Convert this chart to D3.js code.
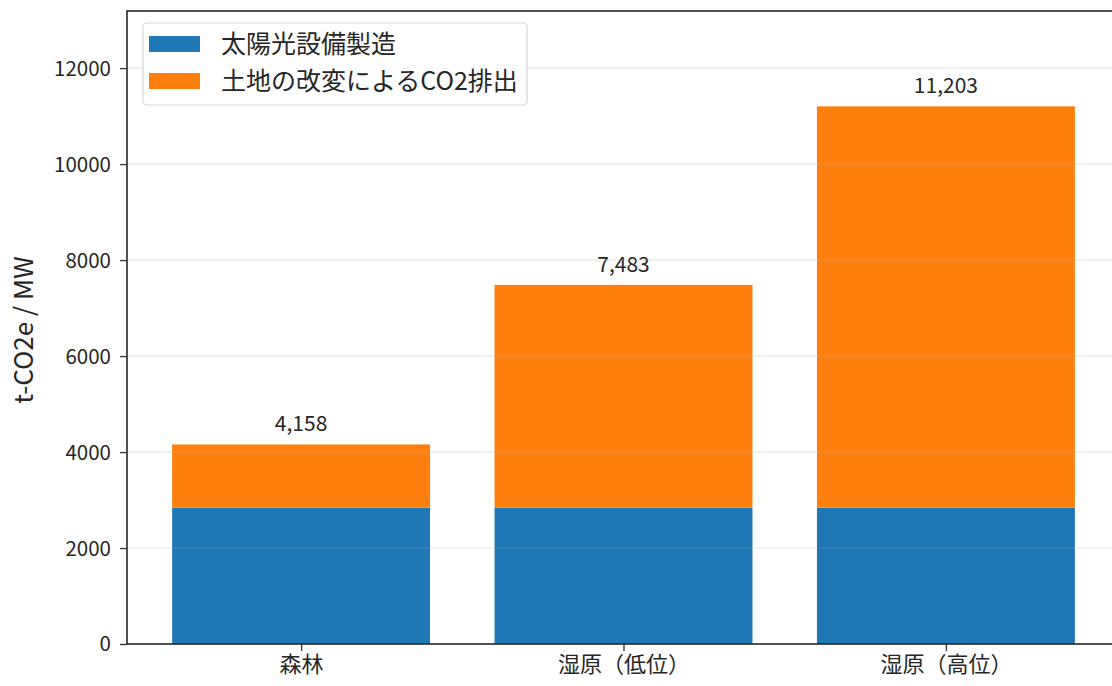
<!DOCTYPE html>
<html><head><meta charset="utf-8">
<script src="https://cdn.jsdelivr.net/npm/d3@7"></script>
<style>body{margin:0;background:#fff;} svg{display:block;font-family:"Noto Sans CJK JP","Noto Sans",sans-serif;}</style>
</head><body>
<svg id="c" width="1112" height="686"></svg>
<script>
const categories = ["森林", "湿原（低位）", "湿原（高位）"];
const solarManufacturing = [2840, 2840, 2840];
const landUseChange = [1318, 4643, 8363];
const totalLabels = ["4,158", "7,483", "11,203"];
const seriesNames = ["太陽光設備製造", "土地の改変によるCO2排出"];
const yTicks = [0, 2000, 4000, 6000, 8000, 10000, 12000];

const colors = ["#1f77b4", "#ff7f0e"];
const svg = d3.select("#c");
const m = {left: 127, top: 11, right: 1120, bottom: 644};

const x = d3.scaleLinear().domain([-0.54, 2.54]).range([m.left, m.right]);
const y = d3.scaleLinear().domain([0, 13190]).range([m.bottom, m.top]);
const bw = x(0.8) - x(0);

// bars
categories.forEach((c, i) => {
  const s = solarManufacturing[i], l = landUseChange[i];
  svg.append("rect").attr("x", x(i) - bw/2).attr("width", bw)
    .attr("y", y(s)).attr("height", y(0) - y(s)).attr("fill", colors[0]);
  svg.append("rect").attr("x", x(i) - bw/2).attr("width", bw)
    .attr("y", y(s + l)).attr("height", y(s) - y(s + l)).attr("fill", colors[1]);
  svg.append("text").attr("x", x(i)).attr("y", y(s + l) - 13)
    .attr("text-anchor", "middle").attr("font-size", 21).attr("fill", "#262626")
    .text(totalLabels[i]);
});

// grid (drawn above bars, faint)
svg.append("g").selectAll("line").data(yTicks.slice(1)).join("line")
  .attr("x1", m.left).attr("x2", m.right)
  .attr("y1", d => y(d)).attr("y2", d => y(d))
  .attr("stroke", "#b0b0b0").attr("stroke-opacity", 0.3).attr("stroke-width", 1.2);

// axes
const ya = svg.append("g").attr("transform", `translate(${m.left},0)`)
  .call(d3.axisLeft(y).tickValues(yTicks).tickFormat(d3.format("d")).tickSize(7).tickPadding(9));
ya.select(".domain").remove();
ya.selectAll("text").attr("font-size", 20.5).attr("fill", "#262626").attr("dy", "0.34em").style("font-family", '"Noto Sans CJK JP",sans-serif');
ya.selectAll("line").attr("stroke", "#333").attr("stroke-width", 1.3);

const xa = svg.append("g").attr("transform", `translate(0,${m.bottom})`)
  .call(d3.axisBottom(x).tickValues([0, 1, 2]).tickFormat(i => categories[i]).tickSize(7).tickPadding(5));
xa.select(".domain").remove();
xa.selectAll("text").attr("font-size", 22).attr("fill", "#262626").style("font-family", '"Noto Sans CJK JP",sans-serif');
xa.selectAll("line").attr("stroke", "#333").attr("stroke-width", 1.3);

// spines
svg.append("rect").attr("x", m.left).attr("y", m.top)
  .attr("width", m.right - m.left).attr("height", m.bottom - m.top)
  .attr("fill", "none").attr("stroke", "#262626").attr("stroke-width", 1.6);

// y label
svg.append("text").attr("transform", `translate(33,330) rotate(-90)`)
  .attr("text-anchor", "middle").attr("font-size", 26).attr("fill", "#262626")
  .text("t-CO2e / MW");

// legend
const lg = svg.append("g");
lg.append("rect").attr("x", 143).attr("y", 23).attr("width", 384).attr("height", 82)
  .attr("rx", 4).attr("fill", "#fff").attr("fill-opacity", 0.85)
  .attr("stroke", "#d6d6d6").attr("stroke-width", 1.2);
seriesNames.forEach((n, i) => {
  lg.append("rect").attr("x", 149).attr("y", 36 + i * 37).attr("width", 51).attr("height", 16)
    .attr("fill", colors[i]);
  lg.append("text").attr("x", 221).attr("y", 53 + i * 37).attr("font-size", 25)
    .attr("fill", "#262626").text(n);
});
</script>
</body></html>
